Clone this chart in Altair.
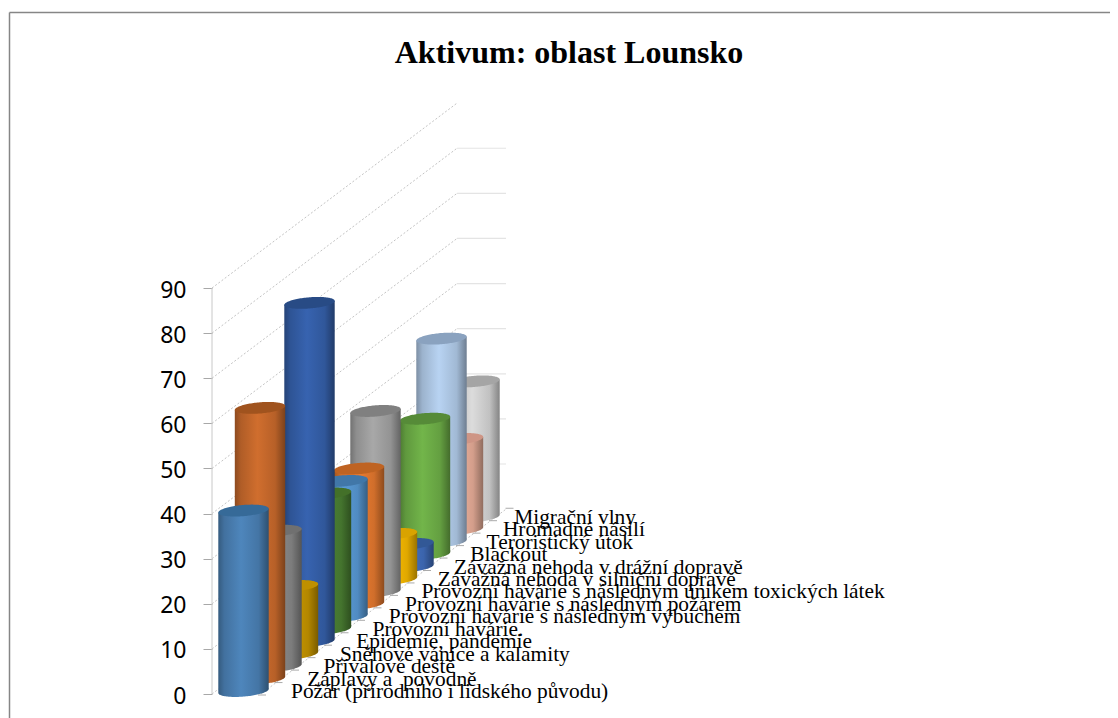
import altair as alt
import numpy as np
import pandas as pd

TITLE = "Aktivum: oblast Lounsko"
categories = [
    "Požár (přírodního i lidského původu)",
    "Záplavy a\u00a0 povodně",
    "Přívalové deště",
    "Sněhové vánice a kalamity",
    "Epidemie, pandemie",
    "Provozní havárie.",
    "Provozní havárie s následným výbuchem",
    "Provozní havárie s následným požárem",
    "Provozní havárie s následným únikem toxických látek",
    "Závažná nehoda v silniční dopravě",
    "Závažná nehoda v drážní dopravě",
    "Blackout",
    "Teroristický útok",
    "Hromadné násilí",
    "Migrační vlny",
]
values = [40, 60, 30, 15, 75, 30, 30, 30, 40, 10, 5, 30, 45, 20, 30]
tick_values = [0, 10, 20, 30, 40, 50, 60, 70, 80, 90]

body_colors = ["#4E86BC", "#D06E2E", "#8E8E8E", "#CC9A00", "#3763B0", "#4E8435", "#5B9FDC", "#ED7D31",
               "#A8A8A8", "#FFC000", "#4472C4", "#72B54A", "#B8D3F2", "#F0B49E", "#DCDCDC"]
top_colors = ["#366A98", "#A0531E", "#707070", "#BF9000", "#284B85", "#437029", "#4177A8", "#BF6322",
              "#808080", "#D9A300", "#325896", "#568B38", "#8AA2BF", "#CE9585", "#A5A5A5"]

# oblique projection, in data units (x: one category step, y: one value unit)
PX, PY = 16.5, 4.511
X0_ABS, Y0_ABS = 243.5, 694.0
W, H = 1102, 710
x_dom = [(8 - X0_ABS) / PX, (8 + W - X0_ABS) / PX]
y_dom = [(Y0_ABS - 8 - H) / PY, (Y0_ABS - 8) / PY]
RISE = 12.45 / PY
BASE = 3.0 / PY
RX, RY, TILT = 25.2 / PX, 5.6 / PY, 2.0 / PY
WALL_X = (212 - X0_ABS) / PX
DEPTH = 14.85
FLOOR_X = (261 - X0_ABS) / PX

x_s = alt.Scale(domain=x_dom, nice=False, zero=False)
y_s = alt.Scale(domain=y_dom, nice=False, zero=False)
y_axis = alt.Axis(
    values=tick_values, title=None, grid=False, domain=False, offset=-(212 - 8),
    tickSize=9, tickColor="#a8a8a8", tickWidth=1,
    labelFont="Noto Sans", labelFontSize=23, labelColor="#000000", labelPadding=17, labelOffset=2,
    labelOverlap=False)
X = alt.X("x:Q", scale=x_s, axis=None)
Y = alt.Y("y:Q", scale=y_s, axis=y_axis)
Y2 = alt.Y2("y2:Q")


def shade(hex_color, f):
    rgb = [int(hex_color[i:i + 2], 16) for i in (1, 3, 5)]
    return "#" + "".join(f"{int(min(255, c * f)):02x}" for c in rgb)


theta = np.linspace(np.pi, 0, 61)
layers = []

# side wall grid
wall = pd.DataFrame({
    "x": [WALL_X] * len(tick_values),
    "x2": [WALL_X + DEPTH] * len(tick_values),
    "y": tick_values,
    "y2": [t + DEPTH * RISE for t in tick_values],
})
layers.append(alt.Chart(wall).mark_rule(color="#c4c4c4", strokeDash=[2, 2], strokeWidth=1).encode(
    x=X, x2="x2:Q", y=Y, y2=Y2))

# back wall grid
back = pd.DataFrame({"v": tick_values[1:-1]})
back["x"] = WALL_X + DEPTH
back["x2"] = WALL_X + DEPTH + 49 / PX
back["y"] = back["v"] + DEPTH * RISE
layers.append(alt.Chart(back).mark_rule(color="#e4e4e4", strokeWidth=1.2).encode(x=X, x2="x2:Q", y=Y))

# floor edge
floor = pd.DataFrame({"x": [FLOOR_X], "x2": [FLOOR_X + DEPTH], "y": [0.0], "y2": [DEPTH * RISE]})
layers.append(alt.Chart(floor).mark_rule(color="#c4c4c4", strokeDash=[2, 2], strokeWidth=1).encode(
    x=X, x2="x2:Q", y=Y, y2=Y2))

# category ticks
cat_ticks = pd.DataFrame({"i": range(len(categories) + 1)})
cat_ticks["x"] = cat_ticks["i"] + (258 - X0_ABS) / PX
cat_ticks["x2"] = cat_ticks["x"] + 8 / PX
cat_ticks["y"] = cat_ticks["i"] * RISE - 1 / PY
layers.append(alt.Chart(cat_ticks).mark_rule(color="#aaaaaa", strokeWidth=1).encode(x=X, x2="x2:Q", y=Y))

# value axis, with its line
axis_df = pd.DataFrame({"x": [WALL_X], "y": [tick_values[0]], "y2": [tick_values[-1]]})
layers.append(alt.Chart(axis_df).mark_rule(color="#c8c8c8", strokeWidth=1).encode(x=X, y=Y, y2=Y2))

# cylinders, back to front
for i in range(len(categories) - 1, -1, -1):
    cx = i
    b = i * RISE + BASE
    v = values[i]
    px = cx + RX * np.cos(theta)
    tilt = TILT * np.cos(theta)
    arc = RY * np.sin(theta)
    body = pd.DataFrame({"x": px, "y": b + v + tilt, "y2": b + tilt - arc})
    top = pd.DataFrame({"x": px, "y": b + v + tilt + arc, "y2": b + v + tilt - arc})
    mid = body_colors[i]
    grad = alt.LinearGradient(
        gradient="linear", x1=0, x2=1, y1=0, y2=0,
        stops=[
            alt.GradientStop(offset=0, color=shade(mid, 0.68)),
            alt.GradientStop(offset=0.12, color=shade(mid, 0.85)),
            alt.GradientStop(offset=0.45, color=mid),
            alt.GradientStop(offset=0.8, color=shade(mid, 0.88)),
            alt.GradientStop(offset=1, color=shade(mid, 0.6)),
        ],
    )
    layers.append(alt.Chart(body).mark_area(color=grad, line=False).encode(x=X, y=Y, y2=Y2))
    layers.append(alt.Chart(top).mark_area(color=top_colors[i], line=False).encode(x=X, y=Y, y2=Y2))

# category labels
labels = pd.DataFrame({"t": categories, "i": range(len(categories))})
labels["x"] = labels["i"] * 16.3 / PX + (291 - X0_ABS) / PX
labels.loc[len(categories) - 1, "x"] -= 5 / PX
labels["y"] = labels["i"] * RISE + BASE - 1 / PY
layers.append(alt.Chart(labels).mark_text(
    align="left", baseline="middle", font="Liberation Serif", fontSize=21.4, color="#000000"
).encode(x=X, y=Y, text="t:N"))

# chart frame
frame = pd.DataFrame({"a": [0]})
layers.append(alt.Chart(frame).mark_rule(color="#868686", strokeWidth=1.5).encode(
    x=alt.value(1.5), y=alt.value(4.5), y2=alt.value(H)))
layers.append(alt.Chart(frame).mark_rule(color="#868686", strokeWidth=1.5).encode(
    x=alt.value(1.5), x2=alt.value(W), y=alt.value(4.5)))

chart = alt.layer(*layers).properties(
    width=W, height=H, padding=0,
    autosize=alt.AutoSizeParams(type="none"),
    title=alt.TitleParams(TITLE, font="Liberation Serif", fontSize=32, fontWeight="bold", color="#000000",
                          anchor="middle", orient="top", offset=-62, dx=10),
).configure_view(stroke=None)

chart.save("out.html", embed_options={"renderer": "svg", "actions": False})
